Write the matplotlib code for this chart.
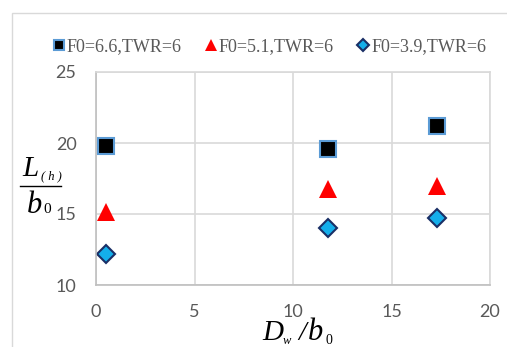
import matplotlib
matplotlib.use("Agg")
import matplotlib.pyplot as plt
from matplotlib.patches import Rectangle
from matplotlib.lines import Line2D

x_vals = [0.5, 11.8, 17.3]
s1 = [19.8, 19.6, 21.2]
s2 = [15.15, 16.77, 16.96]
s3 = [12.2, 14.0, 14.7]
labels = ["F0=6.6,TWR=6", "F0=5.1,TWR=6", "F0=3.9,TWR=6"]
xticks = [0, 5, 10, 15, 20]
yticks = [10, 15, 20, 25]

fig = plt.figure(figsize=(5.07, 3.47), dpi=100)
W, H = 507, 347
ax = fig.add_axes([96/W, 1-285/H, (490-96)/W, (285-72)/H])

# outer chart frame
fig.patches.append(Rectangle((12/W, -0.1), 1.2, 1-13/H+0.1, transform=fig.transFigure,
                             fill=False, edgecolor='#d9d9d9', lw=1.0))

grid_c = '#d9d9d9'
ax.set_xlim(0, 20)
ax.set_ylim(10, 25)
ax.set_xticks(xticks)
ax.set_yticks(yticks)
ax.grid(True, color=grid_c, lw=1.2)
ax.set_axisbelow(True)
for sp in ax.spines.values():
    sp.set_color(grid_c)
    sp.set_linewidth(1.2)
ax.spines['left'].set_color('#bfbfbf')
ax.spines['bottom'].set_color('#bfbfbf')
ax.tick_params(length=0, labelsize=13, labelcolor='#595959')
for lab in ax.get_xticklabels() + ax.get_yticklabels():
    lab.set_family('Lato')
ax.tick_params(axis='x', pad=14)
ax.tick_params(axis='y', pad=14)

h1, = ax.plot(x_vals, s1, ls='none', marker='s', ms=11, mfc='black', mec='#5b9bd5', mew=1.5,
              label=labels[0], clip_on=False)
h2, = ax.plot(x_vals, s2, ls='none', marker='^', ms=13, mfc='#ff0000', mec='#ff0000', mew=0,
              label=labels[1], clip_on=False)
h3, = ax.plot(x_vals, s3, ls='none', marker='D', ms=9, mfc='#14aeea', mec='#1a2f66', mew=1.5,
              label=labels[2], clip_on=False)

leg = fig.legend(handles=[h1, h2, h3], loc='center', bbox_to_anchor=(0.532, 1-47/H), ncol=3,
                 frameon=False, prop={'family': 'Liberation Serif', 'size': 13},
                 handlelength=0.6, handletextpad=0.15, columnspacing=1.3, markerscale=0.7)
for t in leg.get_texts():
    t.set_color('#595959')

# y-axis label as stacked fraction L_(h) / b_0
serif_it = dict(family='Liberation Serif', style='italic', color='black')
fig.text(22/W, 1-176/H, 'L', fontsize=21, ha='left', va='baseline', **serif_it)
fig.text(41/W, 1-179/H, '( h )', fontsize=9, ha='left', va='baseline', **serif_it)
fig.add_artist(Line2D([20/W, 61/W], [1-186/H, 1-186/H], transform=fig.transFigure,
                      color='black', lw=1.0))
fig.text(27/W, 1-213/H, 'b', fontsize=22, ha='left', va='baseline', **serif_it)
fig.text(43/W, 1-213/H, '0', fontsize=11, ha='left', va='baseline',
         family='Liberation Serif', color='black')

# x-axis label D_w / b_0
fig.text(262/W, 1-340/H, 'D', fontsize=21, ha='left', va='baseline', **serif_it)
fig.text(283/W, 1-344/H, 'w', fontsize=9, ha='left', va='baseline', **serif_it)
fig.text(298/W, 1-340/H, '/', fontsize=20, ha='left', va='baseline', **serif_it)
fig.text(308/W, 1-340/H, 'b', fontsize=22, ha='left', va='baseline', **serif_it)
fig.text(325/W, 1-344/H, '0', fontsize=10, ha='left', va='baseline',
         family='Liberation Serif', color='black')

fig.savefig('out.png', dpi=100)
